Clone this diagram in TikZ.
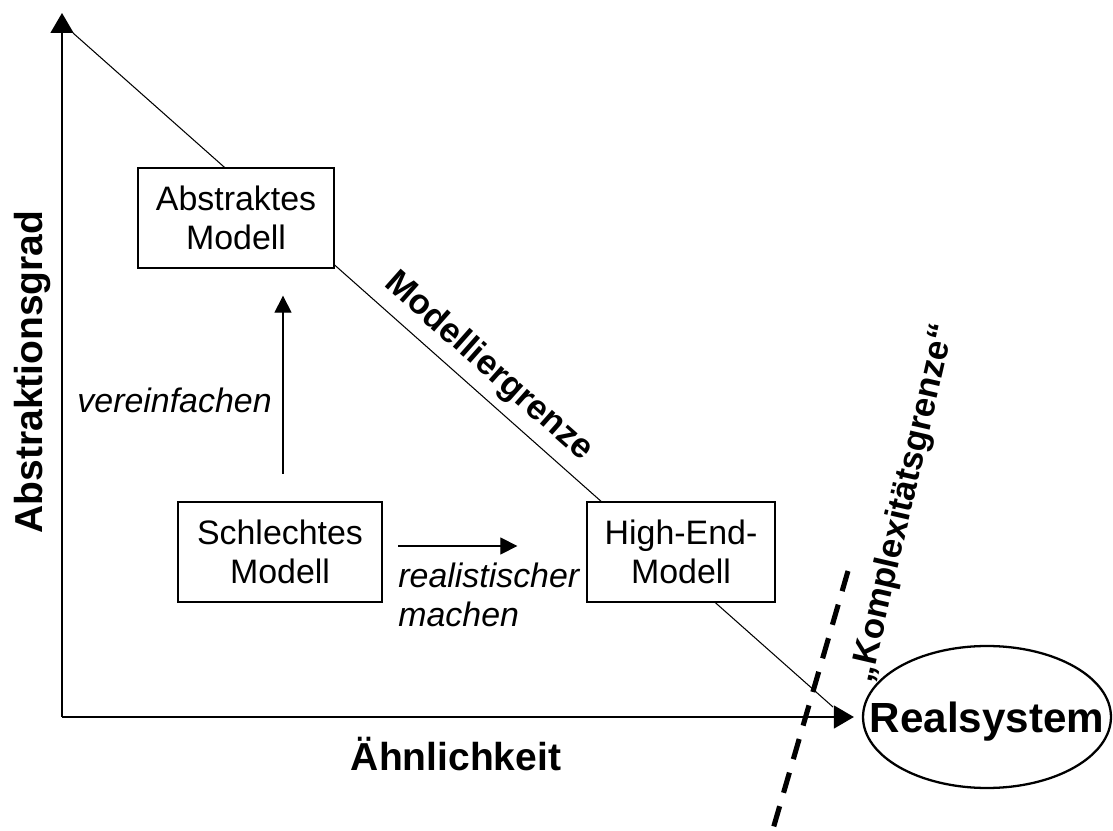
\documentclass[tikz,border=0pt]{standalone}
\usepackage{fontspec}
\setmainfont{Liberation Sans}
\usetikzlibrary{arrows.meta,positioning,calc,shapes.geometric}
\tikzset{
  modell/.style={draw=black,line width=0.75pt,fill=white,align=center,inner sep=0pt,minimum height=2cm,font=\fontsize{19.3}{22.2}\selectfont},
  aktion/.style={font=\fontsize{19.3}{22.2}\selectfont\itshape,inner sep=0pt},
  achsentitel/.style={font=\fontsize{22.2}{26}\selectfont\bfseries,inner sep=0pt},
  grenztitel/.style={font=\fontsize{19.8}{23}\selectfont\bfseries},
  achse/.style={-{Triangle[length=4mm,width=4.6mm]},line width=0.85pt},
  pfeil/.style={-{Triangle[length=3.4mm,width=3.4mm]},line width=0.6pt},
  grenze/.style={line width=0.6pt},
  kgrenze/.style={line width=2.9pt,dash pattern=on 4.2mm off 2.8mm}
}
\begin{document}
\begin{tikzpicture}[x=0.02cm,y=-0.02cm]
  \useasboundingbox (0,0) rectangle (1113,831);
  \coordinate (origin) at (62,717);
  \coordinate (ytop) at (62,13);
  \coordinate (apex) at (73,33);
  \coordinate (foot) at (833,707);

  % Modelliergrenze hinter den Kaesten
  \draw[grenze] (apex) -- node[pos=0.524,sloped,above,inner sep=0.18cm,grenztitel] (mgtext) {Modelliergrenze} (foot);

  \node[modell,minimum width=3.92cm] (abstrakt) at (236,218) {Abstraktes\\Modell};
  \node[modell,minimum width=4.08cm,line width=1.2pt] (schlecht) at (280,552) {Schlechtes\\Modell};
  \node[modell,minimum width=3.76cm] (highend) at (681,552) {High-End-\\Modell};
  \node[ellipse,draw,line width=1.3pt,minimum width=4.96cm,minimum height=2.84cm,inner sep=0pt,text depth=0pt,font=\fontsize{24}{28}\selectfont\bfseries] (real) at (987,717) {\makebox[0pt]{Realsystem}};

  % Achsen
  \draw[achse] (origin) -- (ytop);
  \draw[achse,shorten >=0.16cm] (origin) -- (real);
  \node[achsentitel,rotate=90,anchor=base] (ordinate) at (42,372) {Abstraktionsgrad};
  \node[achsentitel,anchor=base] (abszisse) at (456,770) {Ähnlichkeit};

  % Schritte
  \draw[pfeil,shorten <=0.54cm,shorten >=0.54cm] ([xshift=0.06cm]schlecht.north) -- ([xshift=0.06cm]schlecht.north |- abstrakt.south);
  \node[aktion,anchor=base east] (vereinf) at (272,413) {vereinfachen};
  \draw[pfeil,shorten <=0.3cm,shorten >=1.38cm] ([yshift=0.12cm]schlecht.east) -- ([yshift=0.12cm]highend.west);
  \node[aktion,align=left,anchor=north west] (realist) at (398,563) {realistischer\\machen};

  % Komplexitaetsgrenze
  \coordinate (kg1) at (848,571);
  \coordinate (kg2) at (771,836);
  \draw[kgrenze] (kg1) -- (kg2);
  \node[grenztitel,rotate=77] (kgtext) at (904,503) {„Komplexitätsgrenze“};
\end{tikzpicture}
\end{document}
